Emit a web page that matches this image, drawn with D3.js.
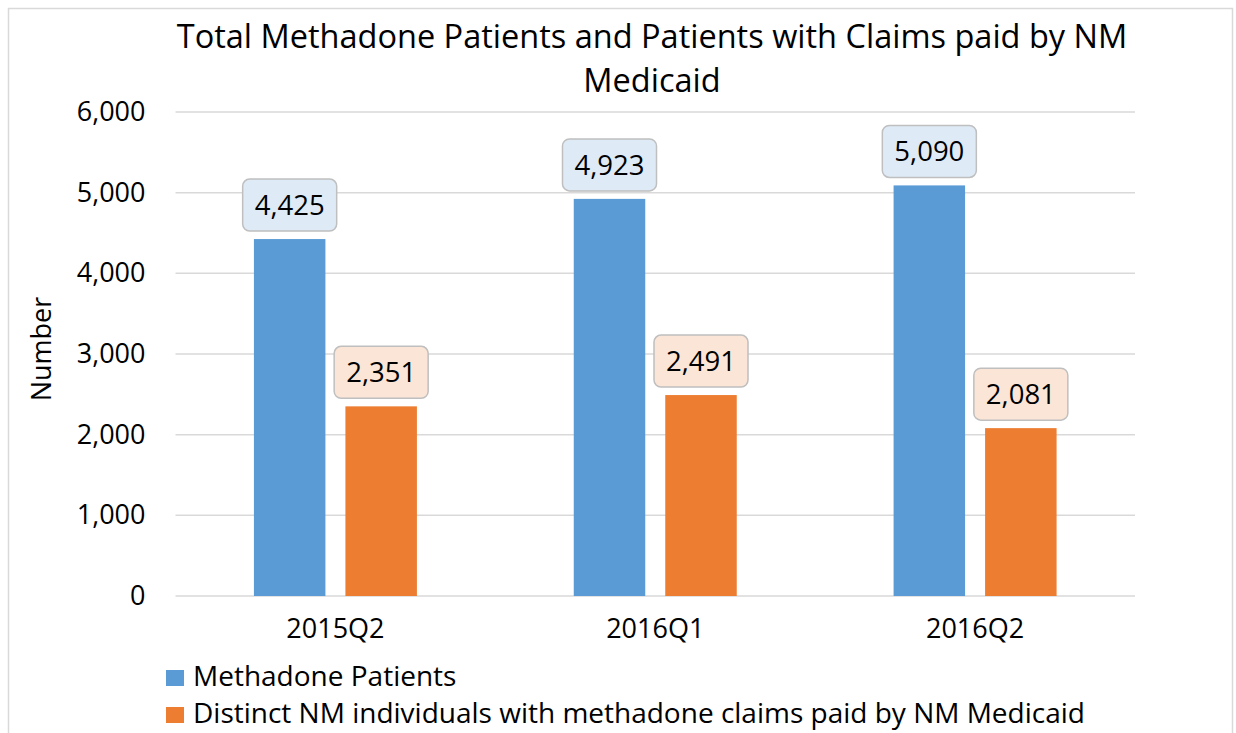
<!DOCTYPE html>
<html>
<head>
<meta charset="utf-8">
<script src="https://cdn.jsdelivr.net/npm/d3@7"></script>
<style>
  body { margin: 0; background: #fff; }
  text { font-family: "Open Sans", "Noto Sans", sans-serif; fill: #000; }
</style>
</head>
<body>
<div id="chart"></div>
<script>
const categories = ["2015Q2", "2016Q1", "2016Q2"]
const seriesNames = ["Methadone Patients", "Distinct NM individuals with methadone claims paid by NM Medicaid"]
const methadonePatients = [4425, 4923, 5090]
const medicaidClaims = [2351, 2491, 2081]
const yTicks = [0, 1000, 2000, 3000, 4000, 5000, 6000]
const titleLines = ["Total Methadone Patients and Patients with Claims paid by NM", "Medicaid"]

const colors = ["#5b9bd5", "#ed7d31"]
const labelFills = ["#deebf7", "#fbe5d6"]

const totalWidth = 1236, totalHeight = 733
const margin = { top: 112, left: 175.5, bottom: 137, right: 101 }
const width = totalWidth - margin.left - margin.right
const height = totalHeight - margin.top - margin.bottom

const svg = d3.select("div#chart").append("svg").attr("width", totalWidth).attr("height", totalHeight)

// marco exterior
svg.append("rect").attr("x", 8.5).attr("y", 8.5).attr("width", 1224).attr("height", 760)
    .attr("fill", "none").attr("stroke", "#d9d9d9").attr("stroke-width", 1.5)

const elementGroup = svg.append("g").attr("transform", `translate(${margin.left}, ${margin.top})`)

const x = d3.scaleBand().domain(categories).range([0, width])
const x1 = d3.scaleBand().domain([0, 1]).range([x.bandwidth() / 2 - 81.5, x.bandwidth() / 2 + 81.5]).paddingInner(0.2186)
const y = d3.scaleLinear().domain([0, 6000]).range([height, 0])

// lineas de la rejilla
elementGroup.append("g").selectAll("line").data(yTicks).join("line")
    .attr("x1", 0).attr("x2", width)
    .attr("y1", d => y(d)).attr("y2", d => y(d))
    .attr("stroke", "#d9d9d9").attr("stroke-width", 1.5)

// eje y
const yAxis = d3.axisLeft(y).tickValues(yTicks).tickFormat(d3.format(",")).tickSize(0).tickPadding(30)
const yAxisGroup = elementGroup.append("g").call(yAxis)
yAxisGroup.select(".domain").remove()
yAxisGroup.selectAll("text").attr("font-size", 27).attr("font-family", "Open Sans")

// eje x
const xAxis = d3.axisBottom(x).tickSize(0).tickPadding(23)
const xAxisGroup = elementGroup.append("g").attr("transform", `translate(0, ${height})`).call(xAxis)
xAxisGroup.select(".domain").remove()
xAxisGroup.selectAll("text").attr("font-size", 27).attr("font-family", "Open Sans")

const data = categories.map((c, i) => ({ cat: c, values: [methadonePatients[i], medicaidClaims[i]] }))

const groups = elementGroup.selectAll("g.cat").data(data).join("g")
    .attr("class", "cat")
    .attr("transform", d => `translate(${x(d.cat)}, 0)`)

groups.selectAll("rect.bar").data(d => d.values.map((v, s) => ({ v, s }))).join("rect")
    .attr("class", "bar")
    .attr("x", d => x1(d.s))
    .attr("width", x1.bandwidth())
    .attr("y", d => y(d.v))
    .attr("height", d => y(0) - y(d.v))
    .attr("fill", d => colors[d.s])

// etiquetas con caja
const labels = groups.selectAll("g.lbl").data(d => d.values.map((v, s) => ({ v, s }))).join("g")
    .attr("class", "lbl")
    .attr("transform", d => `translate(${x1(d.s) + x1.bandwidth() / 2}, ${y(d.v) - 34})`)
labels.append("rect")
    .attr("x", -47).attr("y", -26).attr("width", 94).attr("height", 52)
    .attr("rx", 7).attr("ry", 7)
    .attr("fill", d => labelFills[d.s]).attr("stroke", "#bfbfbf").attr("stroke-width", 1.5)
labels.append("text")
    .attr("text-anchor", "middle").attr("dy", "0.36em")
    .attr("font-size", 27.5)
    .text(d => d3.format(",")(d.v))

// titulo
svg.append("g").selectAll("text").data(titleLines).join("text")
    .attr("x", 652).attr("y", (d, i) => 48 + i * 44)
    .attr("text-anchor", "middle").attr("font-size", 32.5)
    .text(d => d)

// titulo eje y
svg.append("text")
    .attr("transform", "translate(51, 349) rotate(-90)")
    .attr("text-anchor", "middle").attr("font-size", 27)
    .text("Number")

// leyenda
const legend = svg.append("g").attr("transform", "translate(166, 670)")
const items = legend.selectAll("g").data(seriesNames).join("g")
    .attr("transform", (d, i) => `translate(0, ${i * 37})`)
items.append("rect").attr("width", 18).attr("height", 16).attr("fill", (d, i) => colors[i])
items.append("text").attr("x", 27).attr("y", 16).attr("font-size", 28).text(d => d)
</script>
</body>
</html>
